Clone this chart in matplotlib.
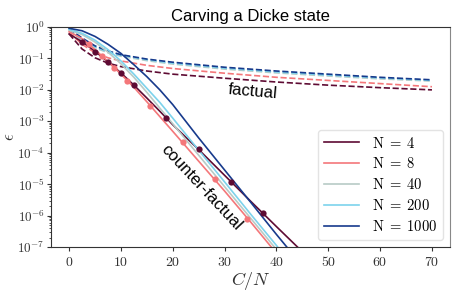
import numpy as np
import matplotlib
matplotlib.use('Agg')
import matplotlib.pyplot as plt
from matplotlib.ticker import FuncFormatter, LogLocator, FixedLocator

plt.rcParams['mathtext.fontset'] = 'cm'

# Data (log10 of epsilon)
n_values = [4, 8, 40, 200, 1000]
colors = ['#5e0b33', '#f4777a', '#b8cbc6', '#7dd3ec', '#173a8c']

# counter-factual (solid) curves
x_cf = [0, 2.5, 5, 7.5, 10, 12.5, 15, 17.5, 20, 25, 30, 35, 40, 45]
cf_n4 = [-0.22, -0.47, -0.77, -1.11, -1.46, -1.85, -2.26, -2.68, -3.11, -3.9, -4.72, -5.54, -6.35, -7.15]
cf_n8 = [-0.15, -0.37, -0.72, -1.10, -1.50, -1.92, -2.38, -2.85, -3.32, -4.27, -5.22, -6.2, -7.2, -8.2]
cf_n40 = [-0.10, -0.24, -0.48, -0.80, -1.17, -1.60, -2.08, -2.58, -3.08, -4.08, -5.08, -6.08, -7.08, -8.1]
cf_n200 = [-0.07, -0.20, -0.42, -0.72, -1.08, -1.50, -1.95, -2.40, -2.90, -3.92, -4.93, -5.95, -6.95, -8.0]
cf_n1000 = [-0.04, -0.12, -0.30, -0.55, -0.84, -1.20, -1.58, -2.00, -2.47, -3.53, -4.55, -5.57, -6.6, -7.6]

# factual (dashed) curves
x_f = [0, 2.5, 5, 7.5, 10, 15, 20, 30, 40, 50, 60, 70]
f_n4 = [-0.22, -0.70, -0.98, -1.15, -1.26, -1.40, -1.50, -1.63, -1.75, -1.85, -1.93, -2.00]
f_n8 = [-0.17, -0.55, -0.82, -0.98, -1.08, -1.22, -1.32, -1.47, -1.60, -1.70, -1.80, -1.90]
f_n40 = [-0.12, -0.42, -0.66, -0.82, -0.93, -1.07, -1.18, -1.34, -1.46, -1.56, -1.65, -1.72]
f_n200 = [-0.10, -0.40, -0.63, -0.79, -0.90, -1.04, -1.15, -1.31, -1.43, -1.53, -1.62, -1.70]
f_n1000 = [-0.05, -0.35, -0.60, -0.76, -0.88, -1.02, -1.12, -1.28, -1.40, -1.50, -1.60, -1.68]

# simulated points
x_pts_n4 = [2.5, 5, 7.5, 10, 12.5, 18.75, 25, 31.25, 37.5]
y_pts_n4 = [-0.49, -0.79, -1.11, -1.47, -1.85, -2.89, -3.89, -4.94, -5.92]
x_pts_n8 = [3.75, 6.25, 8.75, 11.25, 15.625, 21.875, 28.125, 34.375]
y_pts_n8 = [-0.53, -0.91, -1.29, -1.71, -2.51, -3.67, -4.85, -6.10]

cf = [cf_n4, cf_n8, cf_n40, cf_n200, cf_n1000]
fa = [f_n4, f_n8, f_n40, f_n200, f_n1000]

fig = plt.figure(figsize=(4.69, 2.92), dpi=100)
ax = fig.add_axes([0.1087, 0.154, 0.851, 0.7535])

for i in range(5):
    ax.plot(x_f, 10**np.array(fa[i]), '--', color=colors[i], lw=1.2)
for i in range(5):
    ax.plot(x_cf, 10**np.array(cf[i]), '-', color=colors[i], lw=1.2,
            label=r'$\mathrm{N}\;=\;%d$' % n_values[i])

ax.plot(x_pts_n8, 10**np.array(y_pts_n8), 'o', color=colors[1], ms=4.5, mec='none')
ax.plot(x_pts_n4, 10**np.array(y_pts_n4), 'o', color=colors[0], ms=4.5, mec='none')

ax.set_yscale('log')
ax.set_ylim(1e-7, 1)
ax.set_xlim(-3.5, 73.5)

ax.xaxis.set_major_locator(FixedLocator([0, 10, 20, 30, 40, 50, 60, 70]))
ax.xaxis.set_major_formatter(FuncFormatter(lambda v, p: r'$%d$' % v))
ax.yaxis.set_major_locator(FixedLocator([10.0**k for k in range(-7, 1)]))
ax.yaxis.set_major_formatter(FuncFormatter(lambda v, p: r'$10^{%d}$' % round(np.log10(v))))
ax.yaxis.set_minor_locator(LogLocator(base=10, subs=np.arange(2, 10)))
ax.yaxis.set_minor_formatter(FuncFormatter(lambda v, p: ''))
ax.tick_params(axis='x', which='major', labelsize=10, length=3, width=0.8,
               pad=2.5, colors='#333333')
ax.tick_params(axis='y', which='major', labelsize=9.5, length=3, width=0.8,
               pad=1.5, colors='#333333')
ax.tick_params(axis='y', which='minor', length=1.8, width=0.6, colors='#333333')

for s in ['left', 'bottom', 'top']:
    ax.spines[s].set_color('#333333')
ax.spines['right'].set_color('#888888')

ax.set_xlabel(r'$C/N$', fontsize=13, color='#333333', labelpad=1)
ax.set_ylabel(r'$\epsilon$', fontsize=12, color='#333333')
ax.yaxis.set_label_coords(-0.083, 0.5)
ax.set_title('Carving a Dicke state', fontsize=12, family='Liberation Sans', pad=4)

ax.text(35.4, 10**-2.07, 'factual', fontsize=12, family='Liberation Sans',
        rotation=-5, ha='center', va='center')
ax.text(25.6, 10**-5.09, 'counter-factual', fontsize=12, family='Liberation Sans',
        rotation=-47, ha='center', va='center')

leg = ax.legend(loc='lower right', fontsize=10.5, frameon=True, fancybox=True,
                borderaxespad=0.5, handlelength=2.4, handletextpad=0.9,
                labelspacing=0.4)
leg.get_frame().set_edgecolor('#dddddd')

fig.savefig('out.png', dpi=100)
